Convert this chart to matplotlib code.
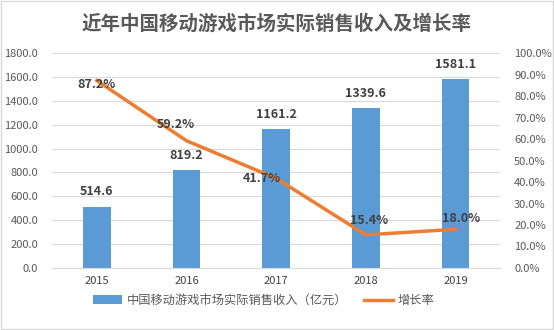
import matplotlib
matplotlib.use("Agg")
import matplotlib.pyplot as plt
from matplotlib.ticker import FuncFormatter

plt.rcParams["font.family"] = ["Noto Sans CJK SC", "DejaVu Sans"]

years = ["2015", "2016", "2017", "2018", "2019"]
revenue = [514.6, 819.2, 1161.2, 1339.6, 1581.1]
growth = [87.2, 59.2, 41.7, 15.4, 18.0]

bar_color = "#5B9BD5"
line_color = "#ED7D31"
text_gray = "#595959"

fig = plt.figure(figsize=(5.54, 3.30), dpi=100)
ax = fig.add_axes([0.094, 0.188, 0.809, 0.651])
ax2 = ax.twinx()

x = list(range(len(years)))
bars = ax.bar(x, revenue, width=0.31, color=bar_color, zorder=2,
              label="中国移动游戏市场实际销售收入（亿元）")
ax.set_ylim(0, 1800)
ax.set_yticks(range(0, 1801, 200))
ax.yaxis.set_major_formatter(FuncFormatter(lambda v, p: f"{v:.1f}"))
ax.set_xlim(-0.5, len(years) - 0.5)
ax.set_xticks(x)
ax.set_xticklabels(years)
ax.grid(axis="y", color="#D9D9D9", linewidth=0.8, zorder=0)
ax.set_axisbelow(True)

line, = ax2.plot(x, growth, color=line_color, linewidth=2.5, zorder=3,
                 label="增长率")
ax2.set_ylim(0, 100)
ax2.set_yticks(range(0, 101, 10))
ax2.yaxis.set_major_formatter(FuncFormatter(lambda v, p: f"{v:.1f}%"))

for a in (ax, ax2):
    for s in a.spines.values():
        s.set_visible(False)
    a.tick_params(length=0, labelsize=8, colors=text_gray)
ax.spines["bottom"].set_visible(True)
ax.spines["bottom"].set_color("#D9D9D9")
ax.tick_params(axis="y", pad=10)
ax2.tick_params(axis="y", pad=10)
ax.tick_params(axis="x", pad=6)
for lbl in ax.get_xticklabels():
    lbl.set_color("#404040")

for xi, v in zip(x, revenue):
    ax.annotate(f"{v:.1f}", (xi, v), xytext=(0, 6), textcoords="offset points",
                ha="center", va="bottom", fontsize=9, fontweight="bold",
                color="#404040")

offsets = [(0, -3), (-8, 12), (-10, 0), (2, 10), (4, 8)]
for xi, v, off in zip(x, growth, offsets):
    ax2.annotate(f"{v:.1f}%", (xi, v), xytext=off, textcoords="offset points",
                 ha="center", va="center", fontsize=9, fontweight="bold",
                 color="#404040", zorder=4)

fig.text(0.5, 0.928, "近年中国移动游戏市场实际销售收入及增长率", ha="center",
         va="center", fontsize=14, fontweight="bold", color=text_gray)

fig.legend([bars, line], [bars.get_label(), line.get_label()],
           loc="center", bbox_to_anchor=(0.476, 0.09), ncol=2, frameon=False,
           fontsize=8.8, labelcolor=text_gray, handlelength=2.4,
           handletextpad=0.4, columnspacing=1.3)

border = plt.Rectangle((0.002, 0.003), 0.996, 0.994, transform=fig.transFigure,
                       fill=False, edgecolor="#D9D9D9", linewidth=1)
fig.patches.append(border)

fig.savefig("out.png", dpi=100)
